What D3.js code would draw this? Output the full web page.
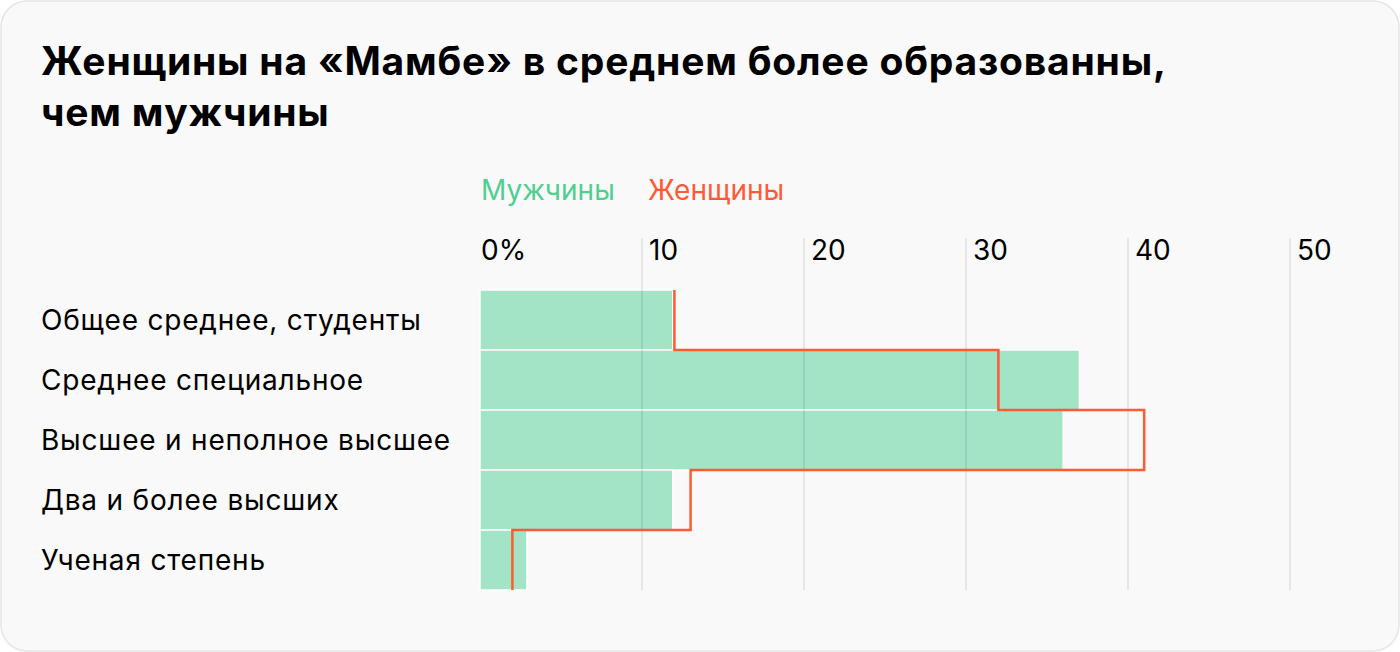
<!DOCTYPE html>
<html><head><meta charset="utf-8">
<script src="https://cdn.jsdelivr.net/npm/d3@7"></script>
<style>html,body{margin:0;padding:0;background:#fff;}svg{display:block;}</style>
</head><body>
<svg id="chart" width="1400" height="652"></svg>
<script>
const categories = ["Общее среднее, студенты","Среднее специальное","Высшее и неполное высшее","Два и более высших","Ученая степень"];
const men = [11.9, 37, 36, 11.9, 2.9];
const women = [12, 32, 41, 13, 2];
const ticks = [0,10,20,30,40,50];
const titleLines = ["Женщины на «Мамбе» в среднем более образованны,","чем мужчины"];
const legendLabels = ["Мужчины","Женщины"];

const FONT = "Inter, 'Noto Sans', sans-serif";
const svg = d3.select("#chart");
svg.append("rect").attr("x",1).attr("y",1).attr("width",1398).attr("height",650)
  .attr("rx",26).attr("fill","#f9f9f9").attr("stroke","#e6e6e6").attr("stroke-width",1.5);

svg.selectAll("text.title").data(titleLines).join("text")
  .attr("x",41).attr("y",(d,i)=>75+i*51)
  .attr("font-family",FONT).attr("font-weight",700).attr("font-size",39)
  .attr("fill","#000").attr("letter-spacing",0.8).text(d=>d);

const x = d3.scaleLinear().domain([0,50]).range([480,1290]);
const y = d3.scaleBand().domain(categories).range([290,590]).padding(0);

// legend
const legColors = ["#4fcf92","#ff5a36"];
const legX = [481,648];
svg.selectAll("text.leg").data(legendLabels).join("text")
  .attr("x",(d,i)=>legX[i]).attr("y",200)
  .attr("font-family",FONT).attr("font-size",28).attr("fill",(d,i)=>legColors[i]).text(d=>d);

// bars
svg.selectAll("rect.bar").data(categories).join("rect")
  .attr("x",x(0)).attr("y",d=>y(d)).attr("width",(d,i)=>x(men[i])-x(0)).attr("height",y.bandwidth())
  .attr("fill","#a3e3c6").attr("stroke","#ffffff").attr("stroke-width",1.5);

// grid
const grid = svg.append("g");
grid.selectAll("line").data(ticks.filter(t=>t>0)).join("line")
  .attr("x1",d=>x(d)).attr("x2",d=>x(d)).attr("y1",238).attr("y2",590)
  .attr("stroke","rgba(0,0,0,0.1)").attr("stroke-width",1.5);
svg.selectAll("text.tick").data(ticks).join("text")
  .attr("x",d=>d===0?x(d)+1:x(d)+7).attr("y",260)
  .attr("font-family",FONT).attr("font-size",28).attr("fill","#000")
  .text(d=>d===0?"0%":d);

// category labels
svg.selectAll("text.cat").data(categories).join("text")
  .attr("x",41).attr("y",d=>y(d)+y.bandwidth()/2+10)
  .attr("font-family",FONT).attr("font-size",28).attr("letter-spacing",0.8)
  .attr("fill","#000").text(d=>d);

// women step line
const pts = [];
categories.forEach((c,i)=>{
  pts.push([x(women[i]), y(c)]);
  pts.push([x(women[i]), y(c)+y.bandwidth()]);
});
svg.append("path").attr("d",d3.line()(pts)).attr("fill","none")
  .attr("stroke","#ff5a36").attr("stroke-width",2.5);
</script>
</body></html>
